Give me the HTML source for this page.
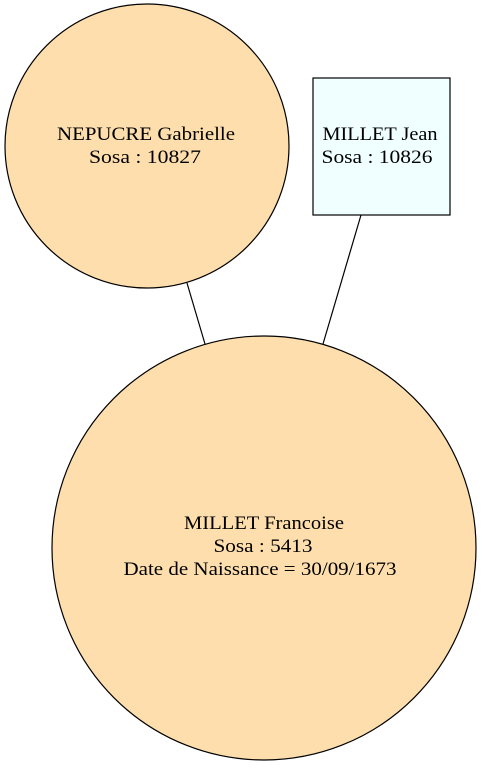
<!DOCTYPE html>
<html><head><meta charset="utf-8"><style>html,body{margin:0;padding:0;background:#fff}</style></head>
<body>
<svg width="482" height="766" viewBox="0 0 482 766" xmlns="http://www.w3.org/2000/svg" font-family="'Liberation Serif', serif" font-size="19" text-anchor="middle">
<line x1="187" y1="283" x2="205" y2="344" stroke="#000" stroke-width="1.2"/>
<line x1="361" y1="215" x2="323" y2="344" stroke="#000" stroke-width="1.2"/>
<circle cx="147" cy="146" r="142" fill="#fddeac" stroke="#000" stroke-width="1.2"/>
<rect x="313" y="78" width="137" height="137" fill="#f0ffff" stroke="#000" stroke-width="1.2"/>
<circle cx="264" cy="548" r="212" fill="#fddeac" stroke="#000" stroke-width="1.2"/>
<text x="146" y="140" textLength="178" lengthAdjust="spacingAndGlyphs">NEPUCRE Gabrielle</text>
<text x="145" y="163" textLength="112" lengthAdjust="spacingAndGlyphs">Sosa : 10827</text>
<text x="380" y="140" textLength="115" lengthAdjust="spacingAndGlyphs">MILLET Jean</text>
<text x="377" y="163" textLength="111" lengthAdjust="spacingAndGlyphs">Sosa : 10826</text>
<text x="264" y="529" textLength="160" lengthAdjust="spacingAndGlyphs">MILLET Francoise</text>
<text x="263" y="552" textLength="99" lengthAdjust="spacingAndGlyphs">Sosa : 5413</text>
<text x="260" y="575" textLength="273" lengthAdjust="spacingAndGlyphs">Date de Naissance = 30/09/1673</text>
</svg>
</body></html>
